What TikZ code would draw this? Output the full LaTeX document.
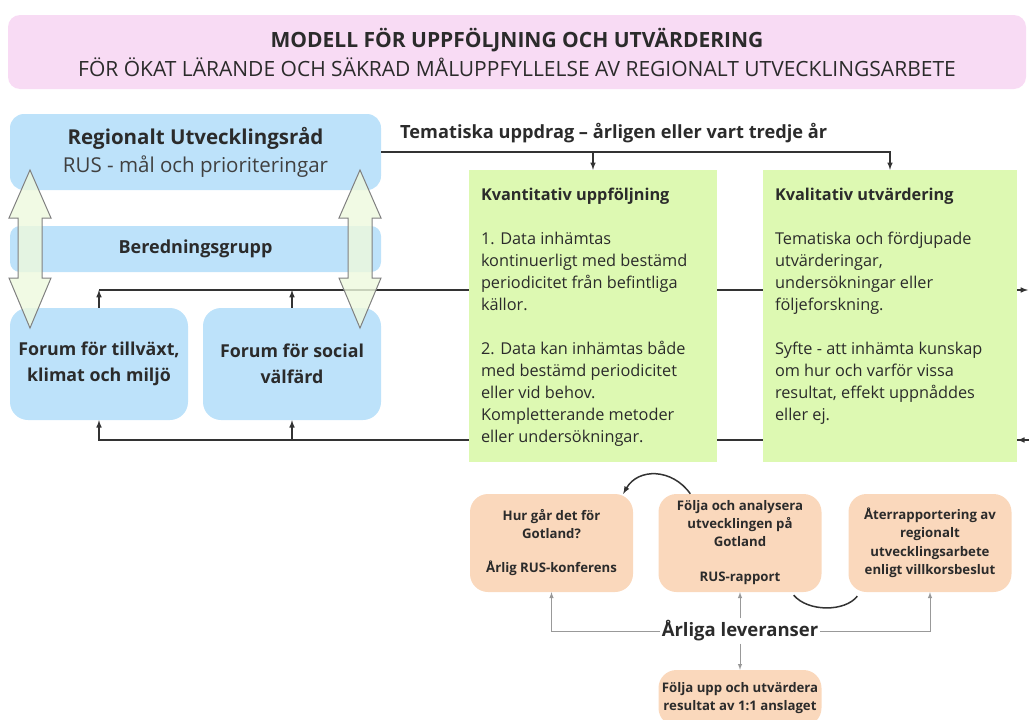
\documentclass[tikz,border=0pt]{standalone}
\usepackage{fontspec}
\setmainfont{Open Sans}
\usetikzlibrary{calc}
\definecolor{titelrosa}{HTML}{F8DBF4}
\definecolor{rusbla}{HTML}{BDE2FA}
\definecolor{uppgron}{HTML}{DDF9B2}
\definecolor{levorange}{HTML}{FAD8BC}
\definecolor{pilgron}{HTML}{EEF9DD}
\definecolor{textgra}{HTML}{2B2B2B}
\definecolor{linjegra}{HTML}{333333}

\begin{document}
\begin{tikzpicture}[x=1pt, y=-1pt,
    every node/.style={text=textgra, inner sep=0pt},
    titelbox/.style={fill=titelrosa, rounded corners=12pt, minimum width=1018pt, minimum height=74pt, align=center,
        font=\fontsize{21}{29}\selectfont},
    blabox/.style={fill=rusbla, rounded corners=14pt, align=center},
    gronbox/.style={fill=uppgron, minimum height=292pt},
    orangebox/.style={fill=levorange, rounded corners=18pt, minimum width=163pt, minimum height=98pt, align=center,
        font=\bfseries\fontsize{13.2}{18}\selectfont},
    gronText/.style={anchor=north west, align=left, font=\fontsize{16.3}{22}\selectfont},
    conn/.style={draw=linjegra, line width=1.5pt},
    gracon/.style={draw=black!40, line width=1pt},
    dubbelpil/.style={fill=pilgron, fill opacity=0.8, draw=black!50, line width=1pt}]
    \clip (0,0) rectangle (1029,720);

    % rubrik
    \node[titelbox] (titel) at (517,52) {%
        \textbf{MODELL FÖR UPPFÖLJNING OCH UTVÄRDERING}\\
        FÖR ÖKAT LÄRANDE OCH SÄKRAD MÅLUPPFYLLELSE AV REGIONALT UTVECKLINGSARBETE};

    % organisation till vänster
    \node[blabox, minimum width=371pt, minimum height=76pt, font=\fontsize{20.5}{28}\selectfont] (rus) at (195.5,152) {%
        \textbf{Regionalt Utvecklingsråd}\\
        {\color{black!75}RUS - mål och prioriteringar}};
    \node[blabox, minimum width=371pt, minimum height=46pt, rounded corners=10pt,
        font=\bfseries\fontsize{18}{24}\selectfont] (bered) at (195.5,249) {Beredningsgrupp};
    \node[blabox, minimum width=178pt, minimum height=112pt, rounded corners=18pt,
        font=\bfseries\fontsize{17.8}{26}\selectfont] (forumtv) at (99,364) {Forum för tillväxt,\\klimat och miljö};
    \node[blabox, minimum width=178pt, minimum height=112pt, rounded corners=18pt,
        font=\bfseries\fontsize{17.8}{26}\selectfont] (forumsv) at (292,364) {Forum för social\\välfärd};

    % fria ändar vid högerkanten
    \coordinate (tema) at (381,152);
    \coordinate (utut) at (1028,290);
    \coordinate (utin) at (1029,440);

    % linjer bakom de gröna rutorna
    \draw[conn, -latex] (forumtv.north) -- (forumtv.north |- utut);
    \draw[conn, -latex] (forumsv.north) -- (forumsv.north |- utut);
    \draw[conn, -latex] (forumtv.north |- utut) -- (utut);
    \draw[conn, -latex] (utin) -| (forumtv.south);
    \draw[conn, -latex] (forumsv.south |- utin) -- (forumsv.south);

    % uppföljning och utvärdering
    \node[gronbox, minimum width=248pt] (kvant) at (593,316) {};
    \node[gronbox, minimum width=254pt] (kval) at (890,316) {};
    \draw[conn, -latex] (utin) -- (kval.east |- utin);
    \node[gronText] (kvanttext) at ([xshift=12pt, yshift=-18pt]kvant.north west) {%
        \textbf{Kvantitativ uppföljning}\\[22pt]
        1. Data inhämtas\\
        kontinuerligt med bestämd\\
        periodicitet från befintliga\\
        källor.\\[22pt]
        2. Data kan inhämtas både\\
        med bestämd periodicitet\\
        eller vid behov.\\
        Kompletterande metoder\\
        eller undersökningar.};
    \node[gronText] (kvaltext) at ([xshift=12pt, yshift=-18pt]kval.north west) {%
        \textbf{Kvalitativ utvärdering}\\[22pt]
        Tematiska och fördjupade\\
        utvärderingar,\\
        undersökningar eller\\
        följeforskning.\\[22pt]
        Syfte - att inhämta kunskap\\
        om hur och varför vissa\\
        resultat, effekt uppnåddes\\
        eller ej.};

    % tematiska uppdrag
    \draw[conn, -latex] (tema) -| (kval.north);
    \draw[conn, -latex] (tema -| kvant.north) -- (kvant.north);
    \node[anchor=west, font=\bfseries\fontsize{18.2}{22}\selectfont] (temalabel) at (400,133)
        {Tematiska uppdrag – årligen eller vart tredje år};

    % dubbelpilar
    \foreach \cx in {30,360}
        \filldraw[dubbelpil] (\cx,170) -- (\cx+21,218) -- (\cx+12,218) -- (\cx+12,278) -- (\cx+21,278)
            -- (\cx,328) -- (\cx-21,278) -- (\cx-12,278) -- (\cx-12,218) -- (\cx-21,218) -- cycle;

    % årliga leveranser
    \node[orangebox] (hur) at (551.5,543) {Hur går det för\\Gotland?\\[16pt]Årlig RUS-konferens};
    \node[orangebox] (folja) at (740,543) {Följa och analysera\\utvecklingen på\\Gotland\\[17pt]RUS-rapport};
    \node[orangebox, font=\bfseries\fontsize{13.2}{18.5}\selectfont] (ater) at (930,543)
        {Återrapportering av\\regionalt\\utvecklingsarbete\\enligt villkorsbeslut};
    \node[orangebox, minimum height=56pt] (upp) at (740,698) {Följa upp och utvärdera\\resultat av 1:1 anslaget};
    \node[font=\bfseries\fontsize{18.5}{22}\selectfont, inner sep=2pt] (lev) at (740,631) {Årliga leveranser};

    \draw[gracon, -latex] (lev.west) -| (hur.south);
    \draw[gracon, -latex] (lev.east) -| (ater.south);
    \draw[gracon, -latex] (lev.north) -- (folja.south);
    \draw[gracon, -latex] (lev.south) -- (upp.north);

    \draw[conn, -latex] ([xshift=32pt]folja.north west) .. controls (672,468) and (638,468) .. ([xshift=-10pt]hur.north east);
    \draw[conn] ([xshift=-28pt, yshift=-3pt]folja.south east) .. controls (808,612) and (845,612) .. ([xshift=9pt, yshift=-4pt]ater.south west);
\end{tikzpicture}
\end{document}
